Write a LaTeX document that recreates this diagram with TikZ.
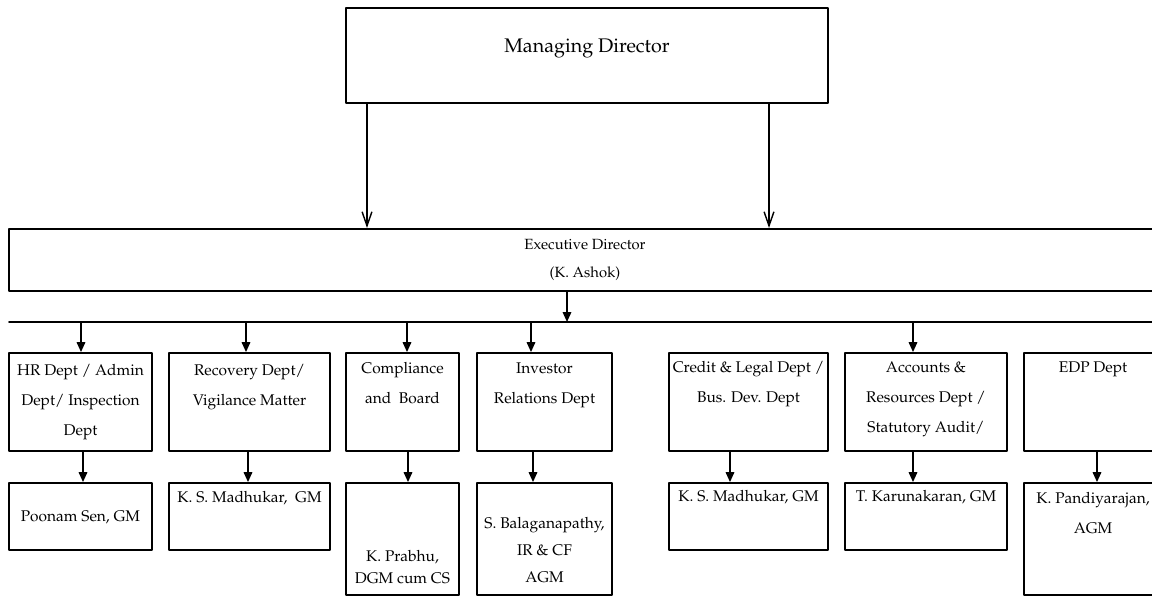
\documentclass[tikz,border=0pt]{standalone}
\usepackage[T1]{fontenc}
\usepackage{mathpazo}
\usetikzlibrary{arrows.meta,fit,positioning}
\tikzset{
  unitbox/.style={draw,line width=1.3pt,inner sep=0pt},
  headbox/.style={draw,line width=1.8pt,inner sep=0pt},
  unit text/.style={align=center,inner sep=0pt,font=\fontsize{11}{21.5}\selectfont},
  feed/.style={line width=1pt,-{Straight Barb[length=10pt,width=7pt]}},
  drop/.style={line width=1.2pt,-{Triangle[length=7pt,width=6pt]}}
}

\begin{document}
\begin{tikzpicture}[x=0.025cm,y=-0.025cm,line cap=round,line join=round]
  \useasboundingbox (0,0) rectangle (1152,597);
  \clip (0,0) rectangle (1152,597);

  % top of the chart
  \node[headbox,fit={(346,8) (828,103)},font=\fontsize{14}{16}\selectfont] (md) {Managing Director};
  \node[unitbox,line width=1.5pt,fit={(9,229) (1170,291)}] (ed) {};
  \node[unit text,font=\fontsize{10.5}{20.5}\selectfont] (edT) at (585,260) {Executive Director\\(K. Ashok)};
  \coordinate (busL) at (9,322);
  \coordinate (busR) at (1160,322);
  \draw[line width=1.4pt] (busL) -- (busR);

  % departments
  \node[unitbox,fit={(9,353) (152,451)}]    (hr)   {};
  \node[unitbox,fit={(169,353) (330,451)}]  (rec)  {};
  \node[unitbox,fit={(346,353) (459,451)}]  (comp) {};
  \node[unitbox,fit={(477,353) (612,451)}]  (inv)  {};
  \node[unitbox,fit={(669,353) (828,451)}]  (cred) {};
  \node[unitbox,fit={(845,353) (1007,451)}] (acc)  {};
  \node[unitbox,fit={(1024,353) (1162,451)}] (edp) {};

  % heads of departments
  \node[unitbox,fit={(9,483) (152,550)}]    (hrP)   {};
  \node[unitbox,fit={(169,483) (330,550)}]  (recP)  {};
  \node[unitbox,fit={(346,483) (459,595)}]  (compP) {};
  \node[unitbox,fit={(477,483) (612,595)}]  (invP)  {};
  \node[unitbox,fit={(669,483) (828,550)}]  (credP) {};
  \node[unitbox,fit={(845,483) (1007,550)}] (accP)  {};
  \node[unitbox,fit={(1024,483) (1162,595)}] (edpP) {};

  \node[unit text,anchor=north] (hrT)   at (80.5,364)  {HR Dept / Admin\\Dept/ Inspection\\Dept};
  \node[unit text,anchor=north] (recT)  at (249.5,364) {Recovery Dept/\\Vigilance Matter};
  \node[unit text,anchor=north] (compT) at (402.5,362) {Compliance\\and\ \ Board};
  \node[unit text,anchor=north] (invT)  at (544.5,362) {Investor\\Relations Dept};
  \node[unit text,anchor=north] (credT) at (748.5,361) {Credit \& Legal Dept /\\Bus. Dev. Dept};
  \node[unit text,anchor=north] (accT)  at (926,361)   {Accounts \&\\Resources Dept /\\Statutory Audit/};
  \node[unit text,anchor=north] (edpT)  at (1093,361)  {EDP Dept};

  \node[unit text] (hrPT)   at (80.5,517)  {Poonam Sen, GM};
  \node[unit text] (recPT)  at (249.5,498) {K. S. Madhukar,\ \ GM};
  \node[unit text,font=\fontsize{11}{15.5}\selectfont] (compPT) at (402.5,567) {K. Prabhu,\\DGM cum CS};
  \node[unit text,font=\fontsize{11}{19.5}\selectfont] (invPT) at (544.5,550) {S. Balaganapathy,\\IR \& CF\\AGM};
  \node[unit text] (credPT) at (748.5,497) {K. S. Madhukar, GM};
  \node[unit text] (accPT)  at (926,497)   {T. Karunakaran, GM};
  \node[unit text,anchor=north] (edpPT) at (1093,492) {K. Pandiyarajan,\\AGM};

  % connectors
  \foreach \x in {367,769} {
    \coordinate (t) at (\x,0);
    \draw[feed] (md.south -| t) -- (ed.north -| t);
  }
  \coordinate (t) at (567,0);
  \draw[drop] (ed.south -| t) -- (busL -| t);
  \foreach \d/\x in {hr/81,rec/246,comp/407,inv/531,acc/913} {
    \coordinate (t) at (\x,0);
    \draw[drop] (busL -| t) -- (\d.north -| t);
  }
  \foreach \d/\x in {hr/83,rec/248,comp/408,inv/533,cred/730,acc/913,edp/1097} {
    \coordinate (t) at (\x,0);
    \draw[drop] (\d.south -| t) -- (\d P.north -| t);
  }
\end{tikzpicture}
\end{document}
